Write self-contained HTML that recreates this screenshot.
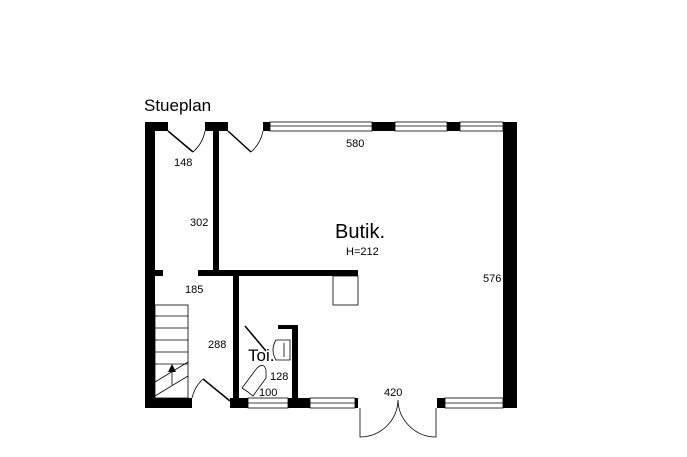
<!DOCTYPE html>
<html><head><style>body{margin:0;background:#fff}svg{display:block}text{font-family:"Liberation Sans",sans-serif;fill:#000}</style></head>
<body>
<svg width="687" height="457" viewBox="0 0 687 457" xmlns="http://www.w3.org/2000/svg">
<text x="144" y="111" font-size="17">Stueplan</text>
<g fill="#000">
<rect x="145" y="122" width="10" height="286"/>
<rect x="145" y="122" width="23" height="9"/>
<rect x="205" y="122" width="23" height="9"/>
<rect x="213" y="122" width="6" height="154"/>
<rect x="263" y="122" width="7" height="9"/>
<rect x="372" y="122" width="23" height="9"/>
<rect x="447" y="122" width="13" height="9"/>
<rect x="503" y="122" width="14" height="286"/>
<rect x="198" y="270" width="160" height="6"/>
<rect x="155" y="270" width="8" height="6"/>
<rect x="233" y="276" width="6" height="132"/>
<rect x="292" y="325" width="6" height="83"/>
<rect x="278" y="325" width="20" height="4"/>
<rect x="145" y="398" width="47" height="10"/>
<rect x="230" y="398" width="18" height="10"/>
<rect x="288" y="398" width="22" height="10"/>
<rect x="355" y="398" width="3" height="10"/>
<rect x="437" y="398" width="8" height="10"/>
<rect x="503" y="398" width="14" height="10"/>
</g>
<g fill="none" stroke="#000" stroke-width="0.8">
<rect x="270" y="122" width="102" height="9"/><line x1="270" y1="126" x2="372" y2="126"/>
<rect x="395" y="122" width="52" height="9"/><line x1="395" y1="126" x2="447" y2="126"/>
<rect x="460" y="122" width="43" height="9"/><line x1="460" y1="126" x2="503" y2="126"/>
<rect x="248" y="398" width="40" height="10"/><line x1="248" y1="403" x2="288" y2="403"/>
<rect x="310" y="398" width="45" height="10"/><line x1="310" y1="403" x2="355" y2="403"/>
<rect x="445" y="398" width="58" height="10"/><line x1="445" y1="403" x2="503" y2="403"/>
<rect x="333" y="276" width="25" height="29"/>
<path d="M360 408 V437 A38 38 0 0 0 398 400 A38 38 0 0 0 436 437 V408"/>
<path d="M205 131 A37 37 0 0 1 193 152"/>
<path d="M263 131 A37 37 0 0 1 251 152"/>
<path d="M192 398 A37 37 0 0 1 203 379"/>
<rect x="155" y="305" width="33" height="93"/>
<line x1="155" y1="316" x2="188" y2="316"/><line x1="155" y1="328" x2="188" y2="328"/>
<line x1="155" y1="340" x2="188" y2="340"/><line x1="155" y1="352" x2="188" y2="352"/>
<line x1="155" y1="364" x2="188" y2="364"/>
<line x1="155" y1="382" x2="188" y2="362"/><line x1="155" y1="396" x2="188" y2="376"/>
<line x1="172" y1="370" x2="172" y2="385"/>
<path d="M248 392 L242 388 L257 368 Q264 362 266 370 L266 378 L253 396 Z"/>
<path d="M276 340 h14 v20 h-14 q-6 -10 0 -20Z"/><line x1="284" y1="343" x2="284" y2="357"/>
</g>
<g stroke="#000" stroke-width="1.5">
<line x1="168" y1="131" x2="193" y2="152"/>
<line x1="228" y1="131" x2="251" y2="152"/>
<line x1="203" y1="379" x2="230" y2="401"/>
<line x1="245" y1="326" x2="266" y2="351"/>
</g>
<path d="M172 364 l-4 8 h8z" fill="#000"/>
<g font-size="11">
<text x="174" y="166">148</text>
<text x="190" y="226">302</text>
<text x="346" y="147">580</text>
<text x="185" y="293">185</text>
<text x="208" y="348">288</text>
<text x="270" y="380">128</text>
<text x="259" y="396">100</text>
<text x="483" y="282">576</text>
<text x="384" y="396">420</text>
<text x="346" y="255">H=212</text>
</g>
<text x="335" y="238" font-size="20">Butik.</text>
<text x="248" y="361" font-size="17">Toi.</text>
</svg>
</body></html>
